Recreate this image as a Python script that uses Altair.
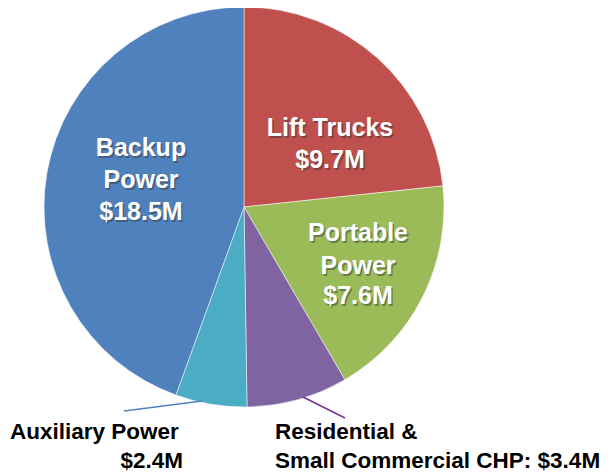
import altair as alt
import pandas as pd

categories = ["Lift Trucks", "Portable Power", "Residential & Small Commercial CHP", "Auxiliary Power", "Backup Power"]
values = [9.7, 7.6, 3.4, 2.4, 18.5]
colors = ["#C0504D", "#9BBB59", "#8064A2", "#4BACC6", "#4F81BD"]

df = pd.DataFrame({"category": categories, "value": values, "order": list(range(len(categories)))})

OFF = 8  # page margin
def px(x):
    return x - OFF

W, H = 596, 467
CX, CY, R = px(244), px(207), 200

pie = alt.Chart(df).mark_arc(radius=R, stroke="white", strokeWidth=0.5).encode(
    theta=alt.Theta("value:Q", stack=True),
    color=alt.Color("category:N", scale=alt.Scale(domain=categories, range=colors), legend=None),
    order=alt.Order("order:Q"),
    x=alt.value(CX),
    y=alt.value(CY),
)

FONT = "Arial, Liberation Sans, sans-serif"

inner_labels = [
    ("Backup", 141, 148), ("Power", 141, 180), ("$18.5M", 141, 212),
    ("Lift Trucks", 330, 128), ("$9.7M", 330, 160),
    ("Portable", 358, 233), ("Power", 358, 266), ("$7.6M", 358, 296),
]

layers = [pie]

def text_layer(t, x, y, size, color, align="center", baseline="middle", dx=0, dy=0, opacity=1):
    return alt.Chart(pd.DataFrame({"t": [t]})).mark_text(
        font=FONT, fontSize=size, fontWeight="bold", color=color, align=align,
        baseline=baseline, dx=dx, dy=dy, opacity=opacity
    ).encode(text="t:N", x=alt.value(px(x)), y=alt.value(px(y)))

for t, x, y in inner_labels:
    layers.append(text_layer(t, x, y, 25, "#333333", dx=1.5, dy=1.5, opacity=0.45))
    layers.append(text_layer(t, x, y, 25, "white"))

# leader lines
layers.append(alt.Chart(pd.DataFrame({"a": [0]})).mark_rule(color="#4F81BD", strokeWidth=1.5).encode(
    x=alt.value(px(202)), y=alt.value(px(401)), x2=alt.value(px(124)), y2=alt.value(px(411))))
layers.append(alt.Chart(pd.DataFrame({"a": [0]})).mark_rule(color="#7030A0", strokeWidth=1.5).encode(
    x=alt.value(px(303)), y=alt.value(px(397)), x2=alt.value(px(345)), y2=alt.value(px(418))))

outer_labels = [
    ("Auxiliary Power", 10, 439, "left"),
    ("$2.4M", 183, 468, "right"),
    ("Residential &", 275, 439, "left"),
    ("Small Commercial CHP: $3.4M", 275, 468, "left"),
]
for t, x, y, a in outer_labels:
    layers.append(text_layer(t, x, y, 22.5, "black", align=a, baseline="alphabetic"))

chart = alt.layer(*layers).properties(
    width=W, height=H,
    autosize=alt.AutoSizeParams(type="none"),
    padding=0,
).configure_view(stroke=None)

chart.save("out.html", embed_options={"renderer": "svg", "actions": False})
